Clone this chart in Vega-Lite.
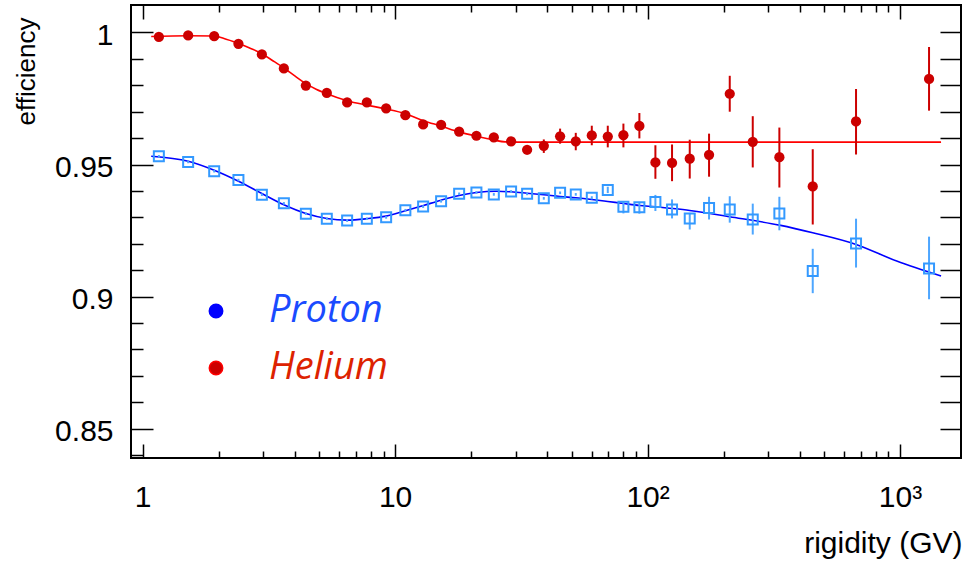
{
  "$schema": "https://vega.github.io/schema/vega-lite/v6.json",
  "autosize": {"type": "none"},
  "width": 830,
  "height": 453,
  "padding": {"left": 131, "top": 5, "right": 2, "bottom": 106},
  "background": "white",
  "config": {
    "view": {"stroke": "#000", "strokeWidth": 2},
    "axis": {"grid": false, "domain": false, "tickColor": "#000", "tickWidth": 1.5, "labelFont": "Liberation Sans", "titleFont": "Liberation Sans", "labelColor": "#000", "titleColor": "#000", "titleFontWeight": "normal"}
  },
  "datasets": {
    "pts": [
      {"R": 1.159, "s": "Helium", "eff": 0.9983, "lo": 0.9978, "hi": 0.9988},
      {"R": 1.514, "s": "Helium", "eff": 0.9989, "lo": 0.9984, "hi": 0.9994},
      {"R": 1.92, "s": "Helium", "eff": 0.9986, "lo": 0.9981, "hi": 0.9991},
      {"R": 2.395, "s": "Helium", "eff": 0.9957, "lo": 0.9952, "hi": 0.9962},
      {"R": 2.966, "s": "Helium", "eff": 0.9917, "lo": 0.9912, "hi": 0.9922},
      {"R": 3.625, "s": "Helium", "eff": 0.9864, "lo": 0.9859, "hi": 0.9869},
      {"R": 4.43, "s": "Helium", "eff": 0.9799, "lo": 0.9794, "hi": 0.9804},
      {"R": 5.363, "s": "Helium", "eff": 0.9771, "lo": 0.9766, "hi": 0.9776},
      {"R": 6.455, "s": "Helium", "eff": 0.9735, "lo": 0.973, "hi": 0.974},
      {"R": 7.726, "s": "Helium", "eff": 0.9735, "lo": 0.973, "hi": 0.974},
      {"R": 9.213, "s": "Helium", "eff": 0.9713, "lo": 0.9708, "hi": 0.9718},
      {"R": 10.98, "s": "Helium", "eff": 0.9687, "lo": 0.9682, "hi": 0.9692},
      {"R": 12.91, "s": "Helium", "eff": 0.9652, "lo": 0.9647, "hi": 0.9657},
      {"R": 15.21, "s": "Helium", "eff": 0.965, "lo": 0.9645, "hi": 0.9655},
      {"R": 17.93, "s": "Helium", "eff": 0.9625, "lo": 0.962, "hi": 0.963},
      {"R": 20.99, "s": "Helium", "eff": 0.9609, "lo": 0.9603, "hi": 0.9615},
      {"R": 24.6, "s": "Helium", "eff": 0.9603, "lo": 0.9597, "hi": 0.9609},
      {"R": 28.8, "s": "Helium", "eff": 0.9588, "lo": 0.9579, "hi": 0.9597},
      {"R": 33.33, "s": "Helium", "eff": 0.9556, "lo": 0.9538, "hi": 0.9573},
      {"R": 38.81, "s": "Helium", "eff": 0.9571, "lo": 0.9544, "hi": 0.9595},
      {"R": 45.03, "s": "Helium", "eff": 0.9607, "lo": 0.9579, "hi": 0.9636},
      {"R": 51.95, "s": "Helium", "eff": 0.9588, "lo": 0.9554, "hi": 0.962},
      {"R": 60.12, "s": "Helium", "eff": 0.961, "lo": 0.9573, "hi": 0.9647},
      {"R": 69.56, "s": "Helium", "eff": 0.9606, "lo": 0.9565, "hi": 0.9647},
      {"R": 80.22, "s": "Helium", "eff": 0.9611, "lo": 0.9565, "hi": 0.9655},
      {"R": 92.8, "s": "Helium", "eff": 0.9646, "lo": 0.9599, "hi": 0.9695},
      {"R": 107.4, "s": "Helium", "eff": 0.9508, "lo": 0.9446, "hi": 0.9573},
      {"R": 125.0, "s": "Helium", "eff": 0.9506, "lo": 0.9437, "hi": 0.9576},
      {"R": 146.9, "s": "Helium", "eff": 0.9522, "lo": 0.9447, "hi": 0.9594},
      {"R": 175.2, "s": "Helium", "eff": 0.9537, "lo": 0.9454, "hi": 0.9617},
      {"R": 211.6, "s": "Helium", "eff": 0.9768, "lo": 0.97, "hi": 0.9836},
      {"R": 261.0, "s": "Helium", "eff": 0.9586, "lo": 0.9489, "hi": 0.9683},
      {"R": 332.7, "s": "Helium", "eff": 0.9528, "lo": 0.9413, "hi": 0.964},
      {"R": 451.1, "s": "Helium", "eff": 0.9417, "lo": 0.9273, "hi": 0.9558},
      {"R": 669.5, "s": "Helium", "eff": 0.9663, "lo": 0.9538, "hi": 0.9786},
      {"R": 1303, "s": "Helium", "eff": 0.9824, "lo": 0.9704, "hi": 0.9945},
      {"R": 1.159, "s": "Proton", "eff": 0.9531, "lo": 0.9526, "hi": 0.9536},
      {"R": 1.514, "s": "Proton", "eff": 0.951, "lo": 0.9505, "hi": 0.9515},
      {"R": 1.92, "s": "Proton", "eff": 0.9475, "lo": 0.947, "hi": 0.948},
      {"R": 2.395, "s": "Proton", "eff": 0.9441, "lo": 0.9436, "hi": 0.9446},
      {"R": 2.966, "s": "Proton", "eff": 0.9386, "lo": 0.9381, "hi": 0.9391},
      {"R": 3.625, "s": "Proton", "eff": 0.9353, "lo": 0.9348, "hi": 0.9358},
      {"R": 4.43, "s": "Proton", "eff": 0.9314, "lo": 0.9309, "hi": 0.9319},
      {"R": 5.363, "s": "Proton", "eff": 0.9295, "lo": 0.929, "hi": 0.93},
      {"R": 6.455, "s": "Proton", "eff": 0.9288, "lo": 0.9283, "hi": 0.9293},
      {"R": 7.726, "s": "Proton", "eff": 0.9295, "lo": 0.929, "hi": 0.93},
      {"R": 9.213, "s": "Proton", "eff": 0.93, "lo": 0.9295, "hi": 0.9305},
      {"R": 10.98, "s": "Proton", "eff": 0.9327, "lo": 0.9322, "hi": 0.9332},
      {"R": 12.91, "s": "Proton", "eff": 0.9341, "lo": 0.9336, "hi": 0.9346},
      {"R": 15.21, "s": "Proton", "eff": 0.9361, "lo": 0.9356, "hi": 0.9366},
      {"R": 17.93, "s": "Proton", "eff": 0.9389, "lo": 0.9384, "hi": 0.9394},
      {"R": 20.99, "s": "Proton", "eff": 0.9394, "lo": 0.9389, "hi": 0.9399},
      {"R": 24.6, "s": "Proton", "eff": 0.9387, "lo": 0.9382, "hi": 0.9392},
      {"R": 28.8, "s": "Proton", "eff": 0.9398, "lo": 0.9393, "hi": 0.9403},
      {"R": 33.33, "s": "Proton", "eff": 0.9389, "lo": 0.9384, "hi": 0.9394},
      {"R": 38.81, "s": "Proton", "eff": 0.9372, "lo": 0.9367, "hi": 0.9377},
      {"R": 45.03, "s": "Proton", "eff": 0.9393, "lo": 0.9388, "hi": 0.9398},
      {"R": 51.95, "s": "Proton", "eff": 0.9387, "lo": 0.9382, "hi": 0.9392},
      {"R": 60.12, "s": "Proton", "eff": 0.9374, "lo": 0.9368, "hi": 0.938},
      {"R": 69.56, "s": "Proton", "eff": 0.9404, "lo": 0.9392, "hi": 0.9416},
      {"R": 80.22, "s": "Proton", "eff": 0.934, "lo": 0.9315, "hi": 0.9361},
      {"R": 92.8, "s": "Proton", "eff": 0.9338, "lo": 0.9314, "hi": 0.9355},
      {"R": 107.4, "s": "Proton", "eff": 0.9358, "lo": 0.9324, "hi": 0.9385},
      {"R": 125.0, "s": "Proton", "eff": 0.933, "lo": 0.9296, "hi": 0.9368},
      {"R": 146.9, "s": "Proton", "eff": 0.9296, "lo": 0.9254, "hi": 0.9317},
      {"R": 175.2, "s": "Proton", "eff": 0.9335, "lo": 0.9292, "hi": 0.9378},
      {"R": 211.6, "s": "Proton", "eff": 0.933, "lo": 0.928, "hi": 0.938},
      {"R": 261.0, "s": "Proton", "eff": 0.9292, "lo": 0.9235, "hi": 0.9352},
      {"R": 332.7, "s": "Proton", "eff": 0.9315, "lo": 0.9251, "hi": 0.9378},
      {"R": 451.1, "s": "Proton", "eff": 0.9097, "lo": 0.9013, "hi": 0.9181},
      {"R": 669.5, "s": "Proton", "eff": 0.9201, "lo": 0.911, "hi": 0.9295},
      {"R": 1303, "s": "Proton", "eff": 0.9106, "lo": 0.899, "hi": 0.9227}
    ],
    "fit": [
      {"R": 1.081, "s": "Helium", "eff": 0.9985},
      {"R": 1.514, "s": "Helium", "eff": 0.99875},
      {"R": 1.92, "s": "Helium", "eff": 0.99864},
      {"R": 2.141, "s": "Helium", "eff": 0.99743},
      {"R": 2.395, "s": "Helium", "eff": 0.99592},
      {"R": 2.666, "s": "Helium", "eff": 0.99403},
      {"R": 2.966, "s": "Helium", "eff": 0.99195},
      {"R": 3.279, "s": "Helium", "eff": 0.9893},
      {"R": 3.625, "s": "Helium", "eff": 0.98655},
      {"R": 4.018, "s": "Helium", "eff": 0.98345},
      {"R": 4.43, "s": "Helium", "eff": 0.98061},
      {"R": 4.865, "s": "Helium", "eff": 0.97853},
      {"R": 5.363, "s": "Helium", "eff": 0.97683},
      {"R": 6.455, "s": "Helium", "eff": 0.97419},
      {"R": 7.726, "s": "Helium", "eff": 0.97249},
      {"R": 9.213, "s": "Helium", "eff": 0.97105},
      {"R": 10.98, "s": "Helium", "eff": 0.96927},
      {"R": 12.95, "s": "Helium", "eff": 0.9666},
      {"R": 15.21, "s": "Helium", "eff": 0.96455},
      {"R": 17.93, "s": "Helium", "eff": 0.96236},
      {"R": 20.99, "s": "Helium", "eff": 0.9607},
      {"R": 24.6, "s": "Helium", "eff": 0.95926},
      {"R": 27.27, "s": "Helium", "eff": 0.95858},
      {"R": 29.88, "s": "Helium", "eff": 0.9585},
      {"R": 1453.8, "s": "Helium", "eff": 0.9585},
      {"R": 1.081, "s": "Proton", "eff": 0.95314},
      {"R": 1.514, "s": "Proton", "eff": 0.95125},
      {"R": 1.92, "s": "Proton", "eff": 0.94785},
      {"R": 2.395, "s": "Proton", "eff": 0.94369},
      {"R": 2.966, "s": "Proton", "eff": 0.93904},
      {"R": 3.625, "s": "Proton", "eff": 0.93477},
      {"R": 4.43, "s": "Proton", "eff": 0.93148},
      {"R": 5.363, "s": "Proton", "eff": 0.92959},
      {"R": 6.455, "s": "Proton", "eff": 0.92895},
      {"R": 7.726, "s": "Proton", "eff": 0.92948},
      {"R": 9.213, "s": "Proton", "eff": 0.93046},
      {"R": 10.98, "s": "Proton", "eff": 0.9325},
      {"R": 12.95, "s": "Proton", "eff": 0.9345},
      {"R": 15.21, "s": "Proton", "eff": 0.93651},
      {"R": 17.93, "s": "Proton", "eff": 0.93828},
      {"R": 20.99, "s": "Proton", "eff": 0.93942},
      {"R": 25.28, "s": "Proton", "eff": 0.93991},
      {"R": 28.8, "s": "Proton", "eff": 0.93968},
      {"R": 33.33, "s": "Proton", "eff": 0.93915},
      {"R": 38.81, "s": "Proton", "eff": 0.93855},
      {"R": 45.03, "s": "Proton", "eff": 0.93791},
      {"R": 51.95, "s": "Proton", "eff": 0.93741},
      {"R": 60.12, "s": "Proton", "eff": 0.93677},
      {"R": 69.56, "s": "Proton", "eff": 0.93602},
      {"R": 80.22, "s": "Proton", "eff": 0.93526},
      {"R": 92.8, "s": "Proton", "eff": 0.9345},
      {"R": 107.4, "s": "Proton", "eff": 0.93401},
      {"R": 125.0, "s": "Proton", "eff": 0.93337},
      {"R": 146.9, "s": "Proton", "eff": 0.93261},
      {"R": 211.6, "s": "Proton", "eff": 0.93023},
      {"R": 332.7, "s": "Proton", "eff": 0.92706},
      {"R": 451.1, "s": "Proton", "eff": 0.92419},
      {"R": 669.5, "s": "Proton", "eff": 0.91977},
      {"R": 970.3, "s": "Proton", "eff": 0.91345},
      {"R": 1453.8, "s": "Proton", "eff": 0.90779}
    ]
  },
  "resolve": {"axis": {"x": "independent", "y": "independent"}},
  "layer": [
    {
      "data": {"name": "fit"},
      "mark": {"type": "line", "interpolate": "monotone", "strokeWidth": 1.6},
      "encoding": {
        "x": {"field": "R", "type": "quantitative",
          "scale": {"type": "log", "domain": [0.899, 1744], "nice": false},
          "axis": {"orient": "bottom", "values": [1, 10, 100, 1000], "ticks": false, "tickSize": 0,
            "labelExpr": "datum.value == 1 ? '1' : datum.value == 10 ? '10' : datum.value == 100 ? '10²' : '10³'",
            "labelFontSize": 30, "labelPadding": 24, "labelFlush": false, "labelOverlap": false,
            "title": "rigidity (GV)", "titleFontSize": 30, "titleAlign": "right", "titleAnchor": "end",
            "titleBaseline": "alphabetic", "titleX": 831, "titleY": 94}},
        "y": {"field": "eff", "type": "quantitative",
          "scale": {"domain": [0.8389, 1.0104], "nice": false, "zero": false},
          "axis": {"orient": "left", "values": [0.85, 0.9, 0.95, 1], "ticks": false, "tickSize": 0,
            "labelExpr": "datum.value == 1 ? '1' : format(datum.value, '.2~f')",
            "labelFontSize": 30, "labelPadding": 18, "labelOffset": 3, "labelOverlap": false, "labelFlush": false,
            "title": "efficiency", "titleFontSize": 26, "titleAngle": -90, "titleAlign": "right",
            "titleBaseline": "alphabetic", "titleX": -97, "titleY": 12}},
        "color": {"field": "s", "type": "nominal",
          "scale": {"domain": ["Proton", "Helium"], "range": ["#0000ff", "#ff0000"]},
          "legend": {"orient": "none", "legendX": 66, "legendY": 287, "title": null, "padding": 0,
            "symbolType": "circle", "symbolSize": 180, "labelFont": "Open Sans", "labelFontStyle": "italic",
            "labelFontSize": 38, "labelOffset": 34, "rowPadding": 19,
            "encode": {
              "symbols": {"update": {"fill": {"signal": "datum.value === 'Proton' ? '#0000ff' : '#cc0000'"}, "stroke": {"value": "transparent"}, "opacity": {"value": 1}}},
              "labels": {"update": {"fill": {"signal": "datum.value === 'Proton' ? '#1a4bff' : '#dd2200'"}}}
            }}}
      }
    },
    {
      "data": {"name": "pts"},
      "transform": [{"filter": "datum.s === 'Helium'"}],
      "mark": {"type": "rule", "color": "#cc0000", "strokeWidth": 2},
      "encoding": {
        "x": {"field": "R", "type": "quantitative", "scale": {"type": "log", "domain": [0.899, 1744], "nice": false},
          "axis": {"orient": "bottom", "values": [1, 10, 100, 1000], "tickSize": -14, "labels": false, "title": null}},
        "y": {"field": "lo", "type": "quantitative", "scale": {"domain": [0.8389, 1.0104], "nice": false, "zero": false},
          "axis": {"orient": "left", "values": [0.85, 0.9, 0.95, 1], "tickSize": -22, "labels": false, "title": null}},
        "y2": {"field": "hi"}
      }
    },
    {
      "data": {"name": "pts"},
      "transform": [{"filter": "datum.s === 'Proton'"}],
      "mark": {"type": "rule", "color": "#4da6ff", "strokeWidth": 2},
      "encoding": {
        "x": {"field": "R", "type": "quantitative", "scale": {"type": "log", "domain": [0.899, 1744], "nice": false},
          "axis": {"orient": "bottom", "values": [2, 3, 4, 5, 6, 7, 8, 9, 20, 30, 40, 50, 60, 70, 80, 90, 200, 300, 400, 500, 600, 700, 800, 900], "tickSize": -7, "labels": false, "title": null}},
        "y": {"field": "lo", "type": "quantitative", "scale": {"domain": [0.8389, 1.0104], "nice": false, "zero": false},
          "axis": {"orient": "left", "values": [0.84, 0.86, 0.87, 0.88, 0.89, 0.91, 0.92, 0.93, 0.94, 0.96, 0.97, 0.98, 0.99], "tickSize": -12, "labels": false, "title": null}},
        "y2": {"field": "hi"}
      }
    },
    {
      "data": {"name": "pts"},
      "transform": [{"filter": "datum.s === 'Helium'"}],
      "mark": {"type": "point", "shape": "circle", "filled": true, "color": "#cc0000", "size": 105, "opacity": 1},
      "encoding": {
        "x": {"field": "R", "type": "quantitative", "scale": {"type": "log", "domain": [0.899, 1744], "nice": false},
          "axis": {"orient": "top", "values": [1, 10, 100, 1000], "tickSize": -14, "labels": false, "title": null}},
        "y": {"field": "eff", "type": "quantitative", "scale": {"domain": [0.8389, 1.0104], "nice": false, "zero": false},
          "axis": {"orient": "right", "values": [0.85, 0.86, 0.87, 0.88, 0.89, 0.9, 0.91, 0.92, 0.93, 0.94, 0.95, 0.96, 0.97, 0.98, 0.99, 1], "tickSize": -21, "labels": false, "title": null}}
      }
    },
    {
      "data": {"name": "pts"},
      "transform": [{"filter": "datum.s === 'Proton'"}],
      "mark": {"type": "point", "shape": "square", "filled": false, "fill": "white", "fillOpacity": 0, "stroke": "#3399ff", "strokeWidth": 2, "size": 100, "opacity": 1},
      "encoding": {
        "x": {"field": "R", "type": "quantitative", "scale": {"type": "log", "domain": [0.899, 1744], "nice": false},
          "axis": {"orient": "top", "values": [2, 3, 4, 5, 6, 7, 8, 9, 20, 30, 40, 50, 60, 70, 80, 90, 200, 300, 400, 500, 600, 700, 800, 900], "tickSize": -7, "labels": false, "title": null}},
        "y": {"field": "eff", "type": "quantitative", "scale": {"domain": [0.8389, 1.0104], "nice": false, "zero": false}, "axis": null}
      }
    }
  ]
}
